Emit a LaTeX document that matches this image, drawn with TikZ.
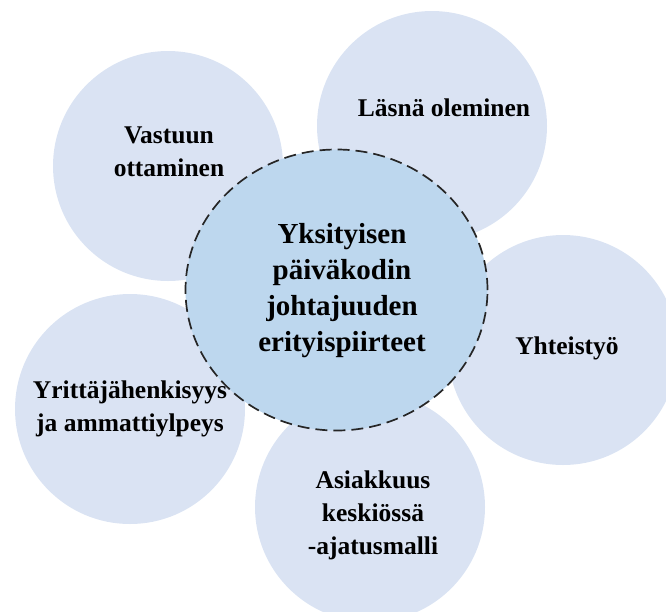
\documentclass[tikz,border=0pt]{standalone}
\usepackage{fontspec}
\setmainfont{Liberation Serif}
\usetikzlibrary{shapes.geometric}
\definecolor{petalblue}{HTML}{DAE3F3}
\definecolor{coreblue}{HTML}{BDD7EE}
\tikzset{
  petal/.style={circle, fill=petalblue, minimum size=230pt, inner sep=0pt},
  core/.style={ellipse, fill=coreblue, draw=black!85, line width=1.7pt,
    dash pattern=on 12pt off 6pt, minimum width=302pt, minimum height=281pt, inner sep=0pt},
  petaltext/.style={align=center, inner sep=0pt, font=\bfseries\fontsize{25.5}{33}\selectfont},
  coretext/.style={align=center, inner sep=0pt, font=\bfseries\fontsize{29}{36}\selectfont},
}
\begin{document}
\begin{tikzpicture}[x=1pt, y=-1pt]
  \useasboundingbox (0,0) rectangle (666,611);
  \clip (0,0) rectangle (666,611);
  % outer circles
  \node[petal] (p1) at (168,166) {};
  \node[petal] (p2) at (432,126) {};
  \node[petal] (p3) at (563,350) {};
  \node[petal] (p4) at (370,507) {};
  \node[petal] (p5) at (130,409) {};
  % central dashed ellipse
  \node[core] (c) at (336.5,290) {};
  % labels
  \node[coretext] (ct) at (342,291) {Yksityisen\\päiväkodin\\johtajuuden\\erityispiirteet};
  \node[petaltext] (t1) at (169,152) {Vastuun\\ottaminen};
  \node[petaltext] (t2) at (444,108) {Läsnä oleminen};
  \node[petaltext] (t3) at (567,348) {Yhteistyö};
  \node[petaltext] (t4) at (373,515) {Asiakkuus\\keskiössä\\-ajatusmalli};
  \node[petaltext] (t5) at (130,409) {Yrittäjähenkisyys\\ja ammattiylpeys};
\end{tikzpicture}
\end{document}
